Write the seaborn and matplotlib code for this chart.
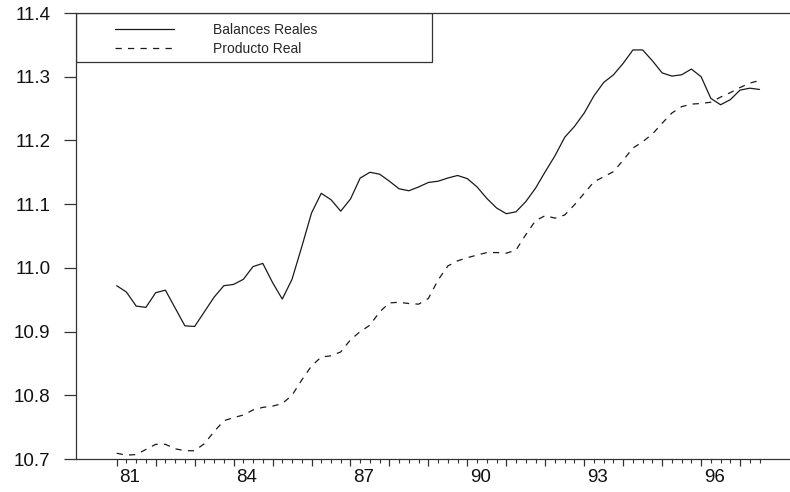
import numpy as np
import pandas as pd
import matplotlib
matplotlib.use("Agg")
import matplotlib.pyplot as plt
import seaborn as sns
from matplotlib.patches import Rectangle

# Quarterly series (logs), 1981Q1 - 1997Q3
start_year = 1981
balances_reales = [
    10.972, 10.962, 10.940, 10.938, 10.961, 10.965, 10.937, 10.909, 10.908, 10.931,
    10.954, 10.972, 10.974, 10.982, 11.002, 11.007, 10.977, 10.951, 10.982, 11.033,
    11.086, 11.117, 11.107, 11.089, 11.108, 11.141, 11.150, 11.147, 11.136, 11.124,
    11.121, 11.127, 11.134, 11.136, 11.141, 11.145, 11.140, 11.127, 11.109, 11.094,
    11.085, 11.088, 11.104, 11.125, 11.151, 11.176, 11.205, 11.222, 11.243, 11.270,
    11.291, 11.303, 11.321, 11.342, 11.342, 11.325, 11.306, 11.301, 11.303, 11.312,
    11.300, 11.266, 11.256, 11.264, 11.279, 11.282, 11.280,
]
producto_real = [
    10.709, 10.706, 10.707, 10.715, 10.723, 10.723, 10.716, 10.713, 10.713, 10.724,
    10.743, 10.760, 10.765, 10.769, 10.777, 10.781, 10.783, 10.787, 10.800, 10.824,
    10.846, 10.860, 10.862, 10.868, 10.887, 10.900, 10.910, 10.931, 10.945, 10.946,
    10.944, 10.943, 10.952, 10.981, 11.003, 11.011, 11.016, 11.020, 11.024, 11.024,
    11.023, 11.028, 11.052, 11.074, 11.082, 11.078, 11.083, 11.099, 11.117, 11.135,
    11.143, 11.151, 11.169, 11.188, 11.198, 11.210, 11.227, 11.243, 11.253, 11.257,
    11.258, 11.260, 11.268, 11.275, 11.283, 11.290, 11.294,
]
series_names = ["Balances Reales", "Producto Real"]
year_labels = ["81", "84", "87", "90", "93", "96"]
labelled_years = [1981, 1984, 1987, 1990, 1993, 1996]
y_ticks = [10.7, 10.8, 10.9, 11.0, 11.1, 11.2, 11.3, 11.4]

fecha = start_year + np.arange(len(balances_reales)) / 4.0
df = pd.DataFrame({
    "fecha": np.concatenate([fecha, fecha]),
    "valor": balances_reales + producto_real,
    "serie": [series_names[0]] * len(fecha) + [series_names[1]] * len(fecha),
})

sns.set_theme(style="white")
plt.rcParams["font.family"] = ["Liberation Sans", "DejaVu Sans"]

W, H = 790, 492
fig = plt.figure(figsize=(W / 100, H / 100), dpi=100)
left_px, right_px, top_px, bottom_px = 75.7, 790, 13, 459
ax = fig.add_axes([left_px / W, 1 - bottom_px / H,
                   (right_px - left_px) / W, (bottom_px - top_px) / H])

ink = "#1a1a1a"
sns.lineplot(data=df, x="fecha", y="valor", style="serie",
             dashes={series_names[0]: "", series_names[1]: (5, 5)},
             color=ink, linewidth=0.9, ax=ax)

ax.set_xlim(1981 - 41.0 / 38.96, 1981 + (right_px - 116.7) / 38.96)
ax.set_ylim(10.7, 11.4)
ax.set_xlabel("")
ax.set_ylabel("")

spine_c = "#333333"
for side in ["left", "top", "bottom"]:
    ax.spines[side].set_color(spine_c)
    ax.spines[side].set_linewidth(0.9)
ax.spines["right"].set_visible(False)

# y axis
ax.set_yticks(y_ticks)
ax.set_yticklabels([f"{v:.1f}" for v in y_ticks])
ax.tick_params(axis="y", which="major", direction="out", length=9, width=0.9,
               color=spine_c, pad=9.2, labelsize=13.5, labelcolor="#111111", left=True)

# x axis: year and quarter ticks without labels
ax.set_xticks(np.arange(1981, 1998))
ax.set_xticks(np.arange(1981, 1997.51, 0.25), minor=True)
ax.tick_params(axis="x", which="major", direction="out", length=4.7, width=0.9,
               color=spine_c, labelbottom=False, bottom=True)
ax.tick_params(axis="x", which="minor", direction="out", length=3.0, width=0.8,
               color=spine_c, bottom=True)

# year labels
sec = ax.secondary_xaxis("bottom")
sec.set_xticks([y + 1 / 3 for y in labelled_years])
sec.set_xticklabels(year_labels)
sec.tick_params(axis="x", length=0, pad=7.2, labelsize=13.5, labelcolor="#111111")
sec.spines["bottom"].set_visible(False)

# legend box
ax.add_patch(Rectangle((0, (bottom_px - 62) / (bottom_px - top_px)),
                       (432 - left_px) / (right_px - left_px),
                       1 - (bottom_px - 62) / (bottom_px - top_px),
                       transform=ax.transAxes, fill=False,
                       edgecolor=spine_c, linewidth=0.9, zorder=3))
handles, labels = ax.get_legend_handles_labels()
ax.legend(handles, labels, loc="upper left",
          bbox_to_anchor=((115 - left_px) / (right_px - left_px),
                          (bottom_px - 23) / (bottom_px - top_px)),
          frameon=False, borderpad=0, borderaxespad=0, fontsize=10,
          handlelength=4.25, handletextpad=2.8, labelspacing=0.38)

fig.savefig("out.png", dpi=100)
